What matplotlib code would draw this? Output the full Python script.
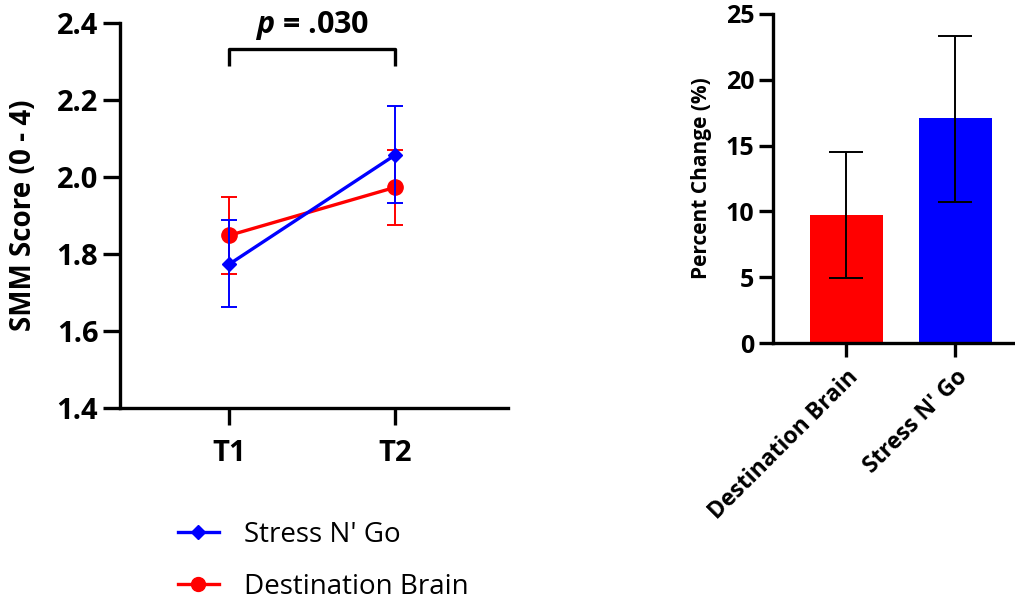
#!/usr/bin/env python3

import matplotlib
matplotlib.use("Agg")
import matplotlib.pyplot as plt
from matplotlib.lines import Line2D

plt.rcParams["font.family"] = ["Open Sans", "DejaVu Sans"]
plt.rcParams["mathtext.fontset"] = "custom"
plt.rcParams["mathtext.bfit"] = "Open Sans:bold:italic"

# left panel: SMM score at two time points
TIMES = ["T1", "T2"]
SNG_MEAN = [1.773, 2.057]
SNG_LO = [1.662, 1.931]
SNG_HI = [1.887, 2.184]
DB_MEAN = [1.848, 1.973]
DB_LO = [1.747, 1.875]
DB_HI = [1.949, 2.070]

# right panel: percent change
GROUPS = ["Destination Brain", "Stress N' Go"]
PCT_MEAN = [9.75, 17.1]
PCT_LO = [4.95, 10.7]
PCT_HI = [14.5, 23.35]

RED = "#ff0000"
BLUE = "#0000ff"
SPINE_W = 2.4


def style_axes(ax, tick_len, size):
    for side in ["top", "right"]:
        ax.spines[side].set_visible(False)
    for side in ["left", "bottom"]:
        ax.spines[side].set_linewidth(SPINE_W)
    ax.tick_params(width=SPINE_W, length=tick_len, labelsize=size)
    for lab in ax.get_xticklabels() + ax.get_yticklabels():
        lab.set_fontweight("bold")


fig = plt.figure(figsize=(10.15, 6.0), dpi=100)

# ---- left panel ----
ax1 = fig.add_axes([0.118, 0.32, 0.382, 0.642])
x = list(range(len(TIMES)))

db_err = [[m - lo for m, lo in zip(DB_MEAN, DB_LO)], [hi - m for m, hi in zip(DB_MEAN, DB_HI)]]
sng_err = [[m - lo for m, lo in zip(SNG_MEAN, SNG_LO)], [hi - m for m, hi in zip(SNG_MEAN, SNG_HI)]]

ax1.errorbar(x, DB_MEAN, yerr=db_err, color=RED, lw=2.4, marker="o", ms=11,
             elinewidth=1.4, capsize=5.5, capthick=1.4, zorder=3)
ax1.errorbar(x, SNG_MEAN, yerr=sng_err, color=BLUE, lw=2.4, marker="D", ms=7.5,
             elinewidth=1.4, capsize=5.5, capthick=1.4, zorder=4)

ax1.set_xlim(-0.657, 1.675)
ax1.set_ylim(1.4, 2.4)
ax1.set_yticks([1.4, 1.6, 1.8, 2.0, 2.2, 2.4])
ax1.set_xticks(x)
ax1.set_xticklabels(TIMES)
ax1.set_ylabel("SMM Score (0 - 4)", fontsize=20, fontweight="bold")
ax1.yaxis.set_label_coords(-0.21, 0.5)
style_axes(ax1, 12, 21)
ax1.tick_params(axis="x", pad=10)

# significance bracket
ax1.plot([0, 0, 1, 1], [2.287, 2.332, 2.332, 2.287], color="black", lw=2.4,
         clip_on=False, solid_capstyle="butt")
ax1.text(0.5, 2.393, r"$\bfit{p}$ = .030", ha="center", va="center", fontsize=22,
         fontweight="bold", clip_on=False)

handles = [
    Line2D([0], [0], color=BLUE, lw=2.4, marker="D", ms=7),
    Line2D([0], [0], color=RED, lw=2.4, marker="o", ms=10),
]
fig.legend(handles, ["Stress N' Go", "Destination Brain"], loc="upper left",
           bbox_to_anchor=(0.151, 0.173), bbox_transform=fig.transFigure,
           frameon=False, fontsize=20, handlelength=1.45, labelspacing=0.85,
           handletextpad=0.9)

# ---- right panel ----
ax2 = fig.add_axes([0.7616, 0.428, 0.2384, 0.549])
xb = list(range(len(GROUPS)))
pct_err = [[m - lo for m, lo in zip(PCT_MEAN, PCT_LO)], [hi - m for m, hi in zip(PCT_MEAN, PCT_HI)]]
ax2.bar(xb, PCT_MEAN, width=0.67, color=[RED, BLUE], zorder=2)
ax2.errorbar(xb, PCT_MEAN, yerr=pct_err, fmt="none", ecolor="black", elinewidth=1.4,
             capsize=12, capthick=1.4, zorder=3)
ax2.set_xlim(-0.67, 1.55)
ax2.set_ylim(0, 25)
ax2.set_yticks([0, 5, 10, 15, 20, 25])
ax2.set_xticks(xb)
ax2.set_xticklabels(GROUPS, rotation=45, ha="right", rotation_mode="anchor")
ax2.set_ylabel("Percent Change (%)", fontsize=15, fontweight="bold", labelpad=10)
style_axes(ax2, 10, 18)
ax2.tick_params(axis="x", labelsize=16.5, pad=6)

fig.savefig("out.png", dpi=100)
